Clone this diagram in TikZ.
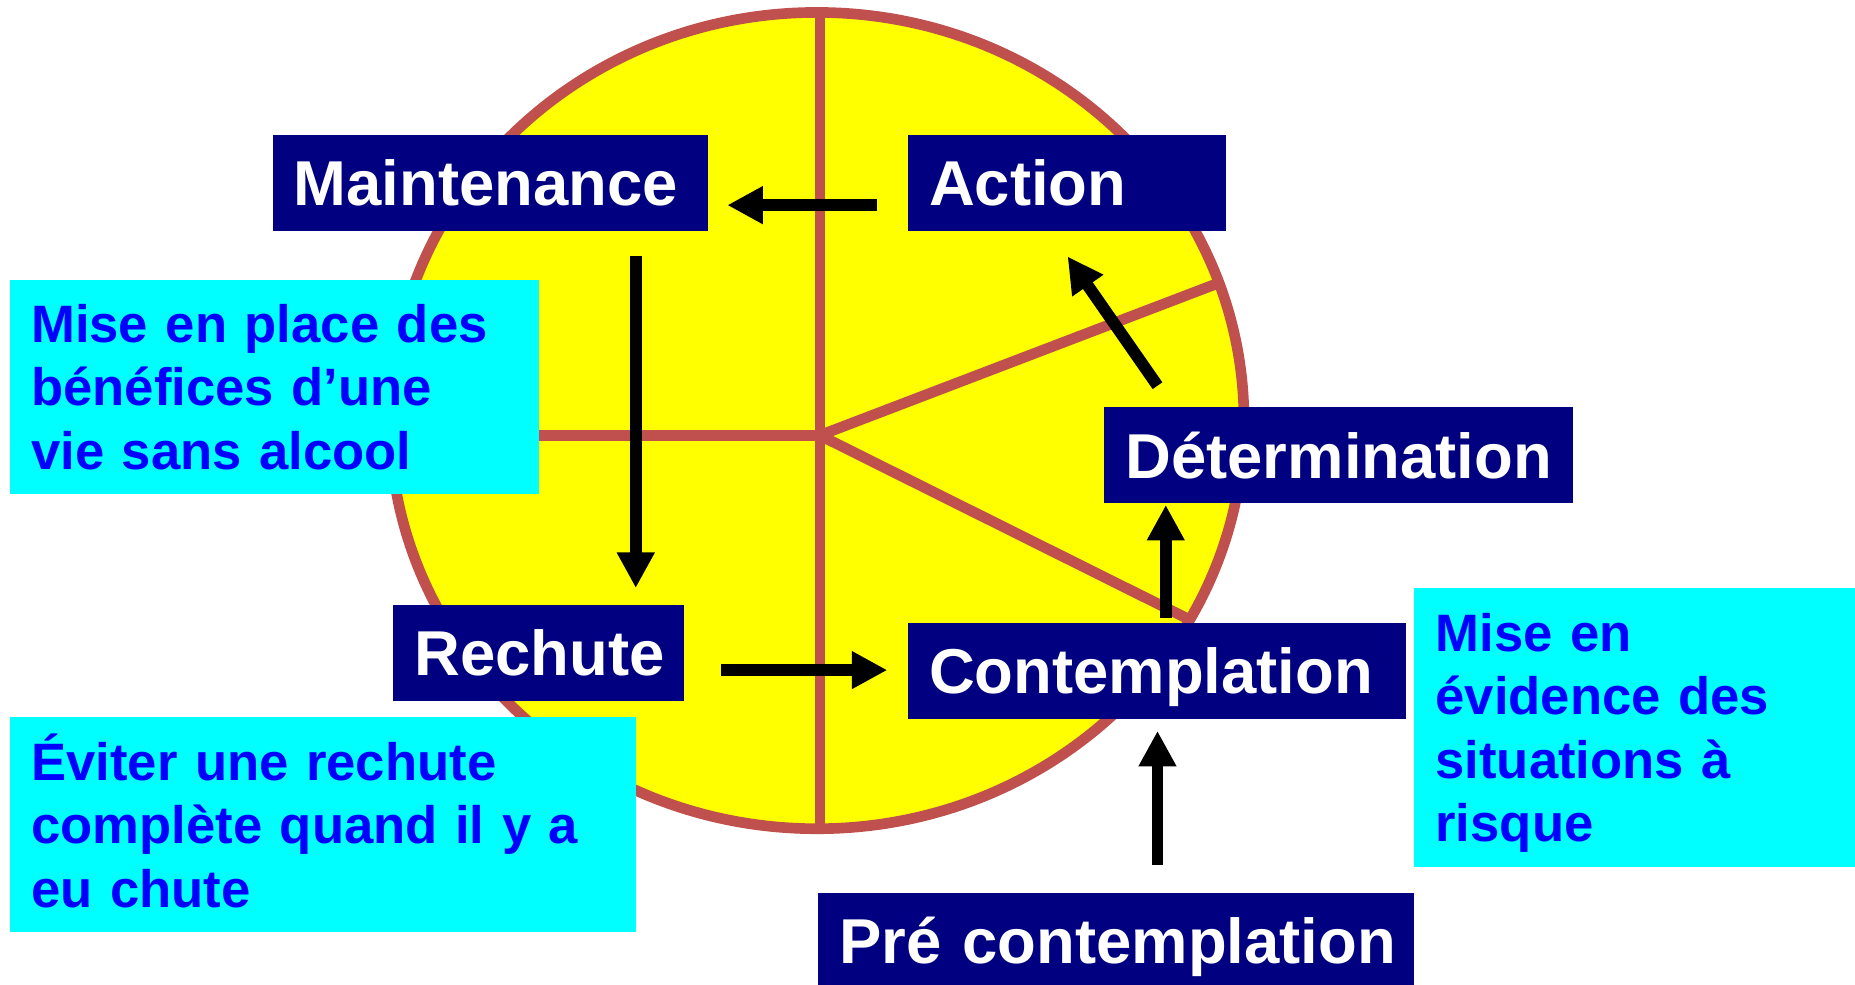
\documentclass[tikz,border=0pt]{standalone}
\usepackage{fontspec}
\setmainfont{Liberation Sans}
\usetikzlibrary{arrows.meta,calc}
\definecolor{navy}{RGB}{0,0,128}
\definecolor{ring}{RGB}{192,80,77}
\definecolor{cyanbox}{RGB}{0,255,255}
\definecolor{bluetext}{RGB}{0,0,255}
\definecolor{yel}{RGB}{255,255,0}
\begin{document}
\begin{tikzpicture}[x=0.5pt,y=-0.5pt,
  stage/.style={fill=navy, text=white, font=\bfseries\fontsize{26.8pt}{32pt}\selectfont,
    anchor=north west, inner xsep=9pt, inner ysep=0pt, minimum height=40.5pt,
    text height=19.2pt, text depth=0pt, align=left},
  note/.style={fill=cyanbox, text=bluetext, font=\bfseries\fontsize{22.25pt}{26.85pt}\selectfont,
    anchor=north west, inner xsep=9pt, inner ysep=10.5pt, text height=16pt, align=left},
  flow/.style={line width=5pt, -{Triangle[length=15pt,width=15pt]}},
  spoke/.style={draw=ring, line width=4.5pt}]
\useasboundingbox[fill=white] (0,0) rectangle (1568,832);
% wheel
\fill[yel] (690.5,355.5) ellipse (361 and 345);
\coordinate (c) at (693,368);
\coordinate (ptop) at (693,8);
\coordinate (pbot) at (693,702);
\coordinate (pleft) at (328,368);
\coordinate (pur) at (1028,240);
\coordinate (plr) at (1004,523);
\draw[spoke] (ptop) -- (pbot);
\draw[spoke] (pleft) -- (c);
\draw[spoke] (c) -- (pur);
\draw[spoke] (c) -- (plr);
\draw[ring, line width=4.5pt] (690.5,355.5) ellipse (361 and 345);
% stage boxes
\node[stage, text width=166pt] (maint) at (230,114) {\mbox{Maintenance}};
\node[stage, text width=116.5pt] (act) at (767,114) {\mbox{Action}};
\node[stage, text width=180pt] (det) at (933,344) {\mbox{Détermination}};
\node[stage, text width=105pt] (rech) at (332,511) {\mbox{Rechute}};
\node[stage, text width=192.5pt] (cont) at (767,526) {\mbox{Contemplation}};
\node[stage, text width=234pt] (pre) at (691,754) {\mbox{Pré contemplation}};
% notes
\node[note, text width=205.5pt, text depth=53.7pt] (n1) at (8,236)
  {Mise en place des\\bénéfices d’une\\vie sans alcool};
\node[note, text width=246.5pt, text depth=53.7pt] (n2) at (8,606)
  {Éviter une rechute\\complète quand il y a\\eu chute};
\node[note, text width=168.5pt, text depth=80.55pt] (n3) at (1195,497)
  {Mise en\\évidence des\\situations à\\risque};
% arrows
\draw[flow] ($(act.west)+(-26,18.5)$) -- ($(maint.east)+(16,18.5)$);
\draw[flow] ($(maint.south)+(123,21)$) -- ($(rech.north)+(82,-14)$);
\draw[flow] ($(rech.east)+(31,14.5)$) -- ($(cont.west)+(-17,-0.5)$);
\draw[flow] ($(pre.north)+(35,-23)$) -- ($(cont.south)+(0.5,10)$);
\draw[flow] ($(cont.north)+(7.5,-4)$) -- ($(det.south)+(-146,1)$);
\draw[flow] ($(det.north)+(-153,-18)$) -- ($(act.south)+(0.5,21)$);
\end{tikzpicture}
\end{document}
